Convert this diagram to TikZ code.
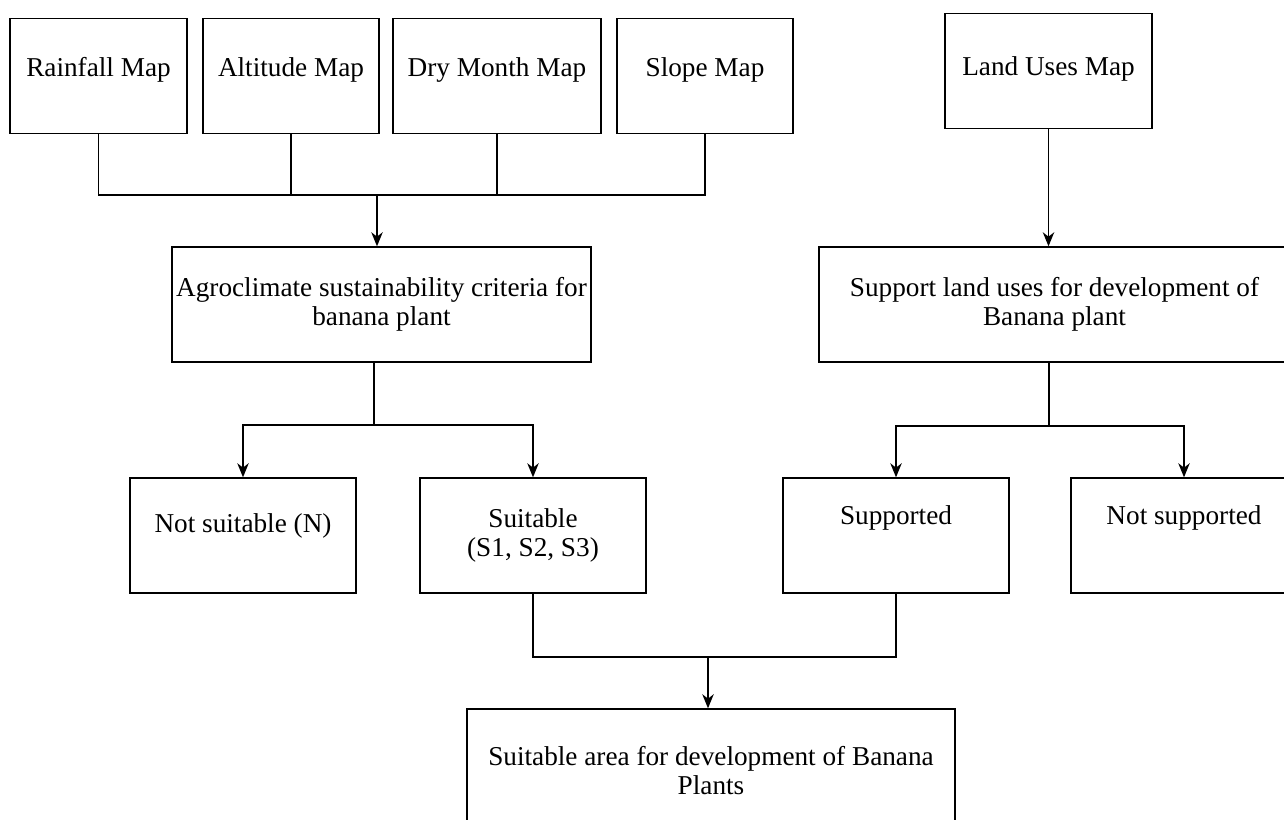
\documentclass[tikz,border=0pt]{standalone}
\usepackage{fontspec}
\setmainfont{Liberation Serif}
\usetikzlibrary{arrows.meta, calc, positioning}

\begin{document}
\begin{tikzpicture}[x=0.02cm, y=-0.02cm,
    box/.style={draw, line width=0.8pt, align=center, inner sep=2pt, minimum height=2.3cm, font=\fontsize{15.5}{16.5}\selectfont},
    lift/.style={text height=11pt, text depth=#1},
    link/.style={line width=0.8pt},
    flow/.style={line width=0.8pt, -{Stealth[length=8pt, width=6.5pt, inset=2.5pt]}}]
    \useasboundingbox (0,0) rectangle (1284,819);
    \clip (0,0) rectangle (1284,819);

    % Input maps
    \node[box, lift=10pt, minimum width=3.54cm] (rain) at (98.5,76) {Rainfall Map};
    \node[box, lift=10pt, minimum width=3.52cm] (alt) at (291,76) {Altitude Map};
    \node[box, lift=10pt, minimum width=4.16cm] (dry) at (497,76) {Dry Month Map};
    \node[box, lift=10pt, minimum width=3.52cm] (slope) at (705,76) {Slope Map};
    \node[box, lift=6pt, minimum width=4.14cm] (land) at (1048.5,71) {Land Uses Map};

    % Criteria
    \node[box, minimum width=8.38cm] (agro) at (381.5,304.5) {Agroclimate sustainability criteria for\\banana plant};
    \node[box, minimum width=9.42cm] (support) at (1054.5,304.5) {Support land uses for development of\\Banana plant};

    % Classes
    \node[box, lift=14.6pt, minimum width=4.52cm] (notsuit) at (243,535.5) {Not suitable (N)};
    \node[box, minimum width=4.52cm] (suit) at (533,535.5) {Suitable\\(S1, S2, S3)};
    \node[box, lift=23pt, minimum width=4.52cm] (supp) at (896,535.5) {Supported};
    \node[box, lift=23pt, minimum width=4.52cm] (notsupp) at (1184,535.5) {Not supported};

    % Result
    \node[box, minimum width=9.76cm, minimum height=2.48cm] (final) at (711,771) {Suitable area for development of Banana\\Plants};

    % Maps into criteria
    \coordinate (mapsbus) at (377,195);
    \draw[link] (rain.south) |- (mapsbus) -| (slope.south);
    \draw[link] (alt.south) -- (alt.south |- mapsbus);
    \draw[link] (dry.south) -- (dry.south |- mapsbus);
    \draw[flow] (mapsbus) -- (mapsbus |- agro.north);
    \draw[flow] (land.south) -- (land.south |- support.north);

    % Criteria into classes
    \coordinate (agrosplit) at (374,425);
    \draw[link] (agrosplit |- agro.south) -- (agrosplit);
    \draw[flow] (agrosplit) -| (notsuit.north);
    \draw[flow] (agrosplit) -| (suit.north);
    \coordinate (suppsplit) at (1049,426);
    \draw[link] (suppsplit |- support.south) -- (suppsplit);
    \draw[flow] (suppsplit) -| (supp.north);
    \draw[flow] (suppsplit) -| (notsupp.north);

    % Overlay
    \coordinate (finalbus) at (708,657);
    \draw[link] (suit.south) |- (finalbus) -| (supp.south);
    \draw[flow] (finalbus) -- (finalbus |- final.north);
\end{tikzpicture}
\end{document}
